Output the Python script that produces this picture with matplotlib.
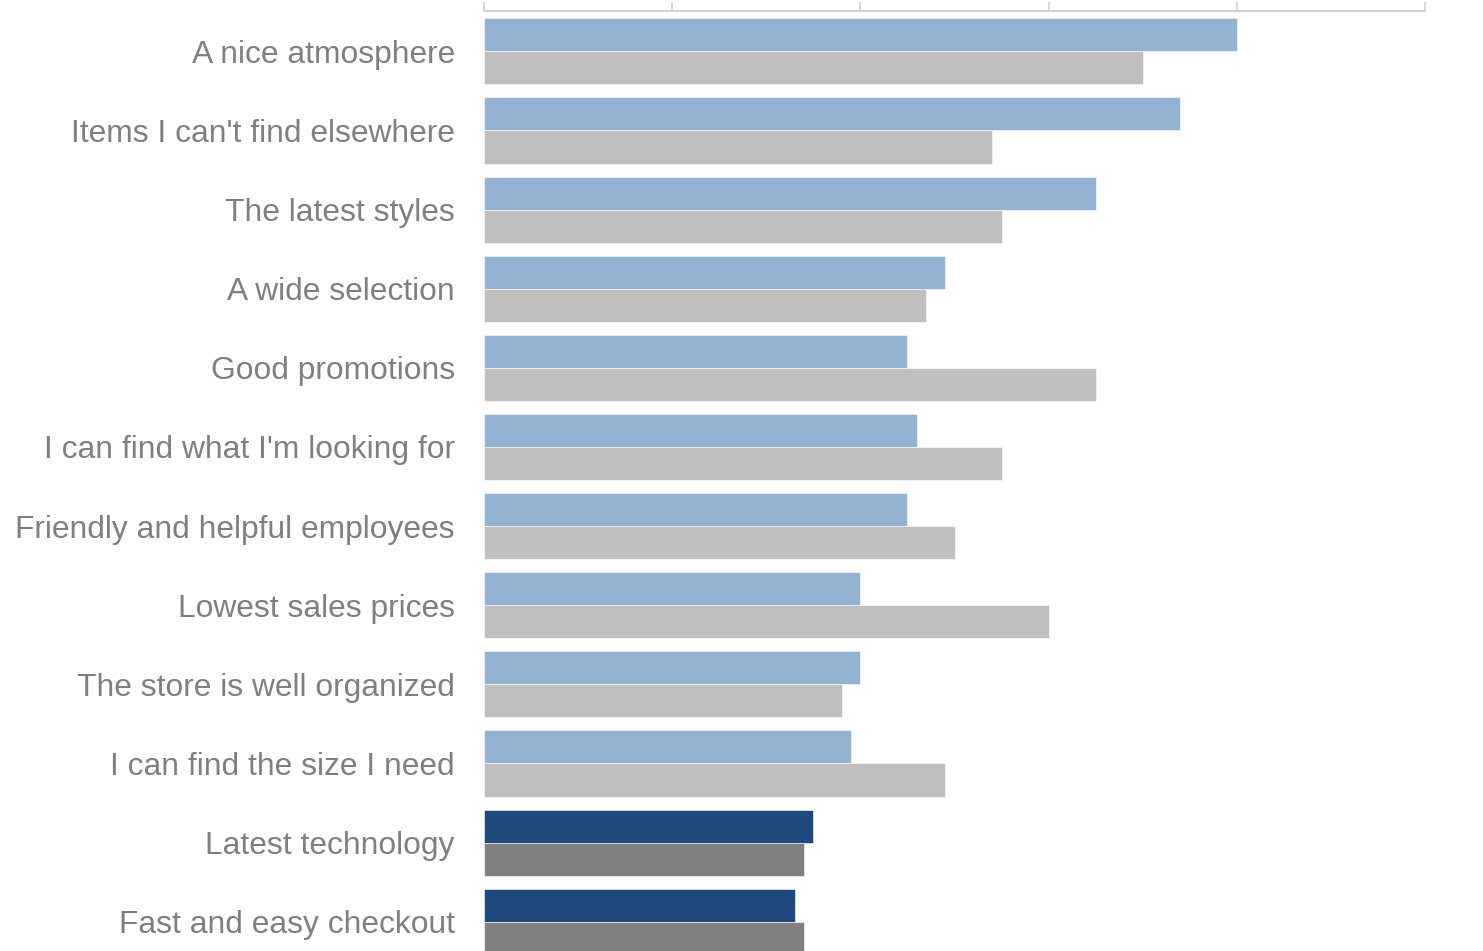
import numpy as np
import matplotlib.pyplot as plt

plt.rcParams['font.family'] = ['Liberation Sans', 'DejaVu Sans']

categories = [
    "A nice atmosphere",
    "Items I can't find elsewhere",
    "The latest styles",
    "A wide selection",
    "Good promotions",
    "I can find what I'm looking for",
    "Friendly and helpful employees",
    "Lowest sales prices",
    "The store is well organized",
    "I can find the size I need",
    "Latest technology",
    "Fast and easy checkout",
]
series_a = [80, 74, 65, 49, 45, 46, 45, 40, 40, 39, 35, 33]
series_b = [70, 54, 55, 47, 65, 55, 50, 60, 38, 49, 34, 34]

# last two categories are highlighted
highlight = [False] * 10 + [True] * 2
colors_a = ['#1F497D' if h else '#93B1D1' for h in highlight]
colors_b = ['#808080' if h else '#BFBFBF' for h in highlight]

W, H = 1483, 951
fig = plt.figure(figsize=(W / 100, H / 100), dpi=100)
ax = fig.add_axes([484 / W, 0, (1425 - 484) / W, 1 - 11 / H])

y = np.arange(len(categories))
bh = 0.418
ax.barh(y - bh / 2, series_a, height=bh, color=colors_a, edgecolor='white', linewidth=0.4)
ax.barh(y + bh / 2, series_b, height=bh, color=colors_b, edgecolor='white', linewidth=0.4)

ax.set_xlim(0, 100)
ax.set_ylim(11.37, -0.51)
ax.set_xticks(np.arange(0, 101, 20))
ax.xaxis.tick_top()
ax.tick_params(axis='x', which='both', length=6.5, width=1.2, color='#D0D0D0', labeltop=False)
ax.set_yticks(y)
ax.set_yticklabels(categories, fontsize=22.9, color='#7F7F7F')
ax.tick_params(axis='y', length=0, pad=21)

for side in ['left', 'right', 'bottom']:
    ax.spines[side].set_visible(False)
ax.spines['top'].set_color('#D0D0D0')
ax.spines['top'].set_linewidth(1.4)

fig.savefig('out.png', dpi=100)
